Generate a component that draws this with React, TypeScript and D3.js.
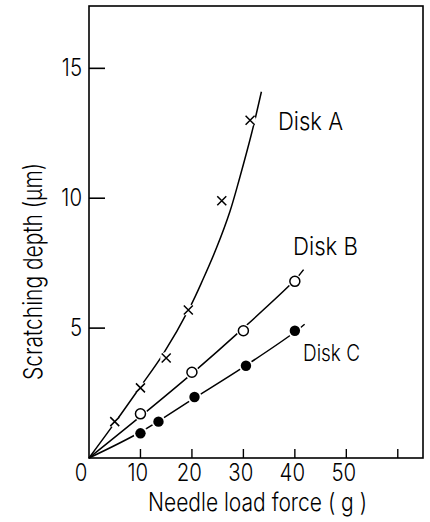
import React from "react";
import * as d3 from "d3";

// measured points
const diskAX = [5, 10, 15, 19.3, 25.8, 31.3];
const diskAY = [1.4, 2.7, 3.85, 5.7, 9.9, 13.0];
const diskBX = [10, 20, 30, 40];
const diskBY = [1.7, 3.3, 4.9, 6.8];
const diskCX = [10, 13.5, 20.5, 30.5, 40];
const diskCY = [0.95, 1.4, 2.35, 3.55, 4.9];

// fitted curves as drawn
const curveA = [[0, 0], [5, 1.35], [10, 2.75], [14.4, 4.0], [19.6, 5.8], [22.2, 6.9], [24.8, 8.1], [27.4, 9.5], [29.3, 10.8], [31.6, 12.5], [33.5, 14.1]];
const curveB = [[0, 0], [10, 1.6], [20, 3.25], [30, 5.0], [40, 6.85], [41.7, 7.25]];
const curveC = [[0, 0], [10, 1.0], [20, 2.25], [30, 3.5], [40, 4.85], [41.9, 5.15]];

const xTicks = [0, 10, 20, 30, 40, 50, 60];
const xTickLabels = ["0", "10", "20", "30", "40", "50", ""];
const yTicks = [5, 10, 15];
const yTickLabels = ["5", "10", "15"];

const font = "Inter, 'DejaVu Sans', sans-serif";
const weight = 300;

const App = () => {
  const x = d3.scaleLinear().domain([0, 64.9]).range([89, 423]);
  const y = d3.scaleLinear().domain([0, 17.4]).range([458, 6]);
  const line = d3
    .line<number[]>()
    .x((d) => x(d[0]))
    .y((d) => y(d[1]))
    .curve(d3.curveCatmullRom);

  const bPts = diskBX.map((v, i) => [v, diskBY[i]]);
  const cPts = diskCX.map((v, i) => [v, diskCY[i]]);
  const aPts = diskAX.map((v, i) => [v, diskAY[i]]);

  return (
    <svg width={430} height={522} style={{ position: "absolute", left: 0, top: 0, background: "#fff" }}>
      <rect x={89} y={6} width={334} height={452} fill="none" stroke="#000" strokeWidth={1.6} />

      {yTicks.map((t, i) => (
        <g key={"y" + t}>
          <line x1={x(0)} x2={x(0) + 16} y1={y(t)} y2={y(t)} stroke="#000" strokeWidth={1.6} />
          <text x={82} y={y(t) + 8} textAnchor="end" fontFamily={font} fontWeight={weight} fontSize={24} style={{ transformOrigin: `82px ${y(t)}px`, transform: "scale(0.85,1)" }}>
            {yTickLabels[i]}
          </text>
        </g>
      ))}

      {xTicks.map((t, i) => (
        <g key={"x" + t}>
          {t > 0 && <line x1={x(t)} x2={x(t)} y1={y(0)} y2={y(0) - 9} stroke="#000" strokeWidth={1.4} />}
          {xTickLabels[i] && (
            <text
              x={t === 0 ? x(t) - 2 : x(t) - 3}
              y={481}
              textAnchor={t === 0 ? "end" : "middle"}
              fontFamily={font}
              fontWeight={weight}
              fontSize={24}
              style={{ transformOrigin: `${x(t)}px 481px`, transform: "scale(0.85,1)" }}
            >
              {xTickLabels[i]}
            </text>
          )}
        </g>
      ))}

      <path d={line(curveA) || ""} fill="none" stroke="#000" strokeWidth={1.5} />
      <path d={line(curveB) || ""} fill="none" stroke="#000" strokeWidth={1.5} />
      <path d={line(curveC) || ""} fill="none" stroke="#000" strokeWidth={1.5} />

      {aPts.map((p, i) => (
        <g key={"a" + i} transform={`translate(${x(p[0])},${y(p[1])})`}>
          <circle r={6} fill="#fff" />
          <path d="M-4.5,-4.5L4.5,4.5M-4.5,4.5L4.5,-4.5" stroke="#000" strokeWidth={1.5} />
        </g>
      ))}
      {bPts.map((p, i) => (
        <g key={"b" + i}>
          <circle cx={x(p[0])} cy={y(p[1])} r={7} fill="#fff" />
          <circle cx={x(p[0])} cy={y(p[1])} r={5} fill="#fff" stroke="#000" strokeWidth={1.5} />
        </g>
      ))}
      {cPts.map((p, i) => (
        <g key={"c" + i}>
          <circle cx={x(p[0])} cy={y(p[1])} r={7} fill="#fff" />
          <circle cx={x(p[0])} cy={y(p[1])} r={5.2} fill="#000" />
        </g>
      ))}

      <text x={278} y={130} fontFamily={font} fontWeight={weight} fontSize={24} textLength={65} lengthAdjust="spacingAndGlyphs">Disk A</text>
      <text x={293} y={255} fontFamily={font} fontWeight={weight} fontSize={24} textLength={65} lengthAdjust="spacingAndGlyphs">Disk B</text>
      <text x={303} y={361} fontFamily={font} fontWeight={weight} fontSize={23} textLength={57} lengthAdjust="spacingAndGlyphs">Disk C</text>

      <text x={148} y={511} fontFamily={font} fontWeight={weight} fontSize={25} textLength={219} lengthAdjust="spacingAndGlyphs">Needle load force ( g )</text>
      <text
        transform="translate(42,380) rotate(-90)"
        fontFamily={font}
        fontWeight={weight}
        fontSize={26}
        textLength={217}
        lengthAdjust="spacingAndGlyphs"
      >
        Scratching depth (μm)
      </text>
    </svg>
  );
};

export default App;
